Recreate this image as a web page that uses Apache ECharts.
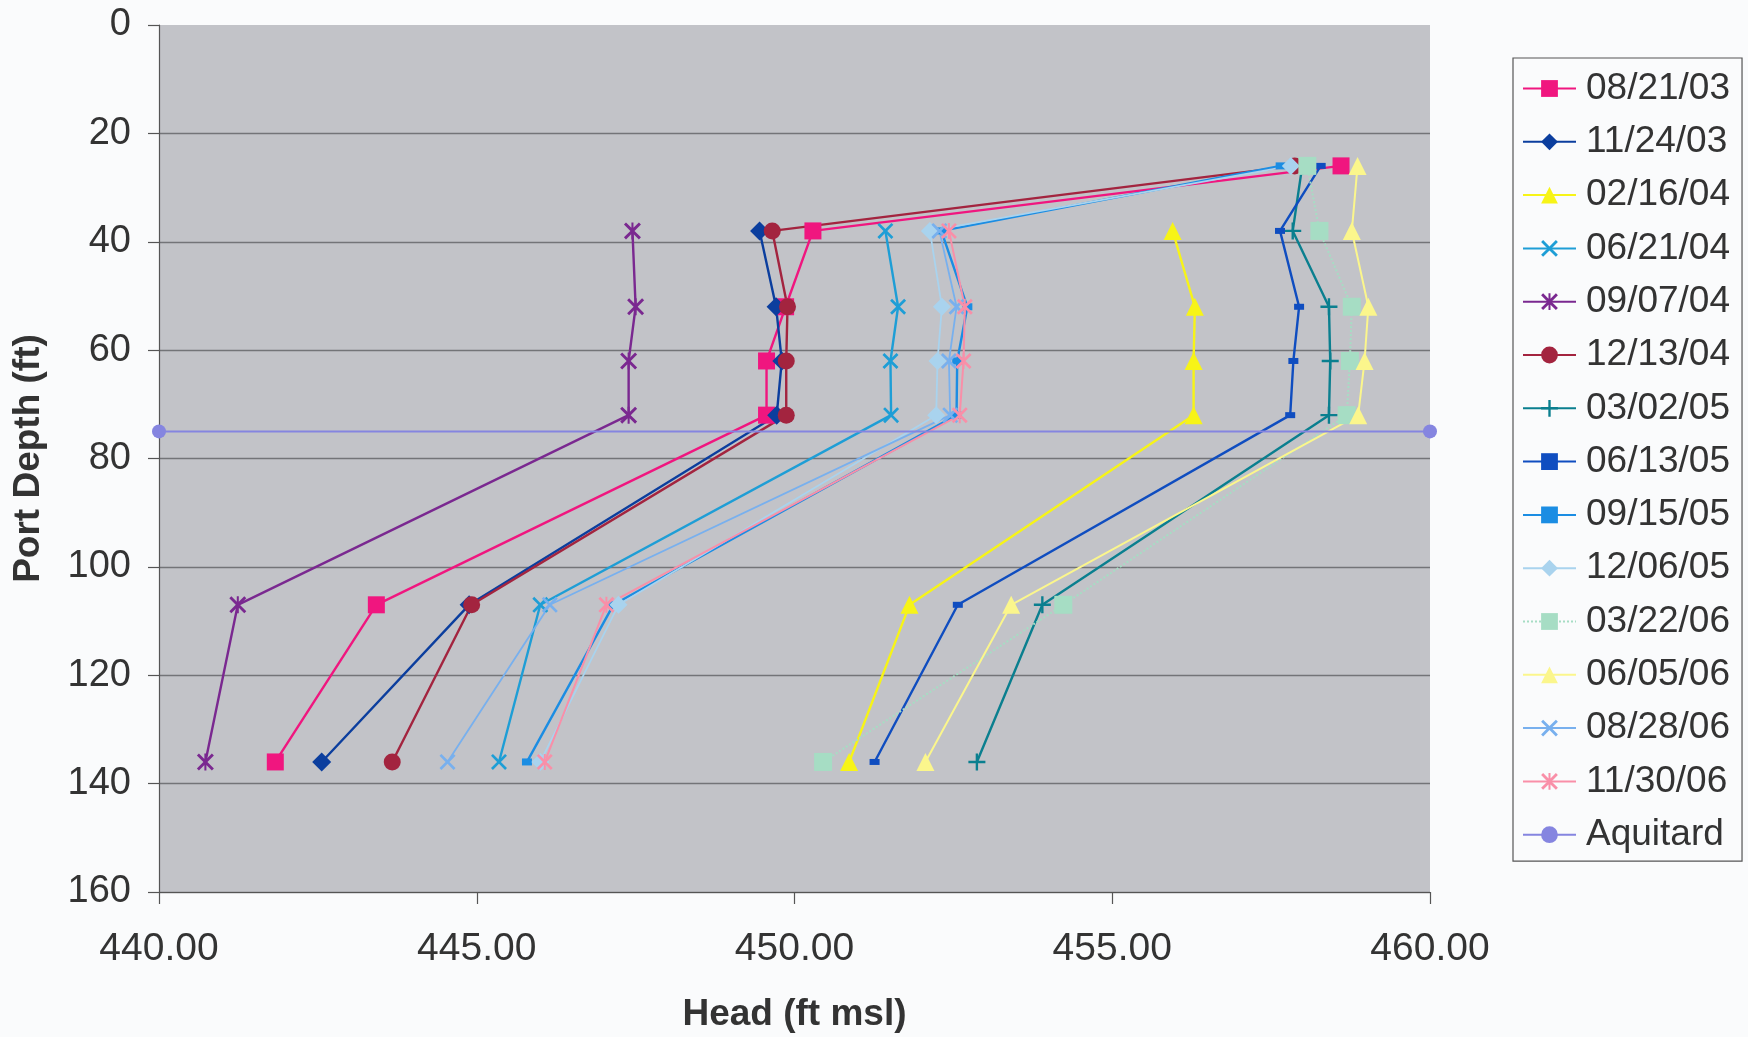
<!DOCTYPE html>
<html>
<head>
<meta charset="utf-8">
<script src="https://cdn.jsdelivr.net/npm/echarts@6/dist/echarts.min.js"></script>
<style>
html,body{margin:0;padding:0;background:#FAFBFC;}
#chart{width:1748px;height:1037px;}
</style>
</head>
<body>
<div id="chart"></div>
<script>
// ---- data ----
var depths = [26, 38, 52, 62, 72, 107, 136];
var seriesNames = ['08/21/03','11/24/03','02/16/04','06/21/04','09/07/04','12/13/04','03/02/05','06/13/05','09/15/05','12/06/05','03/22/06','06/05/06','08/28/06','11/30/06'];
var h_082103 = [458.60, 450.29, 449.86, 449.56, 449.56, 443.42, 441.83];
var h_112403 = [null, 449.45, 449.71, 449.80, 449.72, 444.88, 442.56];
var h_021604 = [null, 455.95, 456.30, 456.28, 456.28, 451.81, 450.86];
var h_062104 = [null, 451.43, 451.63, 451.51, 451.52, 446.00, 445.35];
var h_090704 = [null, 447.45, 447.50, 447.39, 447.39, 441.24, 440.73];
var h_121304 = [457.87, 449.65, 449.89, 449.87, 449.87, 444.92, 443.67];
var h_030205 = [457.99, 457.84, 458.41, 458.43, 458.41, 453.90, 452.87];
var h_061305 = [458.28, 457.64, 457.94, 457.85, 457.80, 452.57, 451.26];
var h_091505 = [457.65, 452.31, 452.72, 452.56, 452.55, 447.15, 445.79];
var h_120605 = [457.81, 452.13, 452.32, 452.25, 452.23, 447.23, 446.00];
var h_032206 = [458.07, 458.26, 458.77, 458.74, 458.69, 454.23, 450.45];
var h_060506 = [458.86, 458.77, 459.03, 458.97, 458.87, 453.41, 452.06];
var h_082806 = [null, 452.28, 452.55, 452.43, 452.45, 446.15, 444.54];
var h_113006 = [null, 452.43, 452.68, 452.66, 452.60, 447.04, 446.07];
var aquitardName = 'Aquitard';
var aquitardHeads = [440, 460];
var aquitardDepth = 75;
var xTicks = [440, 445, 450, 455, 460];
var yTicks = [0, 20, 40, 60, 80, 100, 120, 140, 160];

// ---- styling ----
var SYM_X = 'path://M0,1.2 L1.2,0 L5,3.8 L8.8,0 L10,1.2 L6.2,5 L10,8.8 L8.8,10 L5,6.2 L1.2,10 L0,8.8 L3.8,5 Z';
var SYM_STAR = 'path://M0,1.2 L1.2,0 L5,3.8 L8.8,0 L10,1.2 L6.2,5 L10,8.8 L8.8,10 L5,6.2 L1.2,10 L0,8.8 L3.8,5 Z M4.4,0 L5.6,0 L5.6,10 L4.4,10 Z';
var SYM_PLUS = 'path://M4.3,0 L5.7,0 L5.7,4.3 L10,4.3 L10,5.7 L5.7,5.7 L5.7,10 L4.3,10 L4.3,5.7 L0,5.7 L0,4.3 L4.3,4.3 Z';
var styles = [
  {c:'#F0167F', s:'rect', z:17, w:2.4},
  {c:'#0B3E9E', s:'diamond', z:19, w:2.4},
  {c:'#F7F417', s:'triangle', z:18, w:2.4},
  {c:'#1E9ED6', s:SYM_X, z:16, w:2.4},
  {c:'#7A2890', s:SYM_STAR, z:17, w:2.4},
  {c:'#A3243F', s:'circle', z:17, w:2.4},
  {c:'#0A7F8F', s:SYM_PLUS, z:17, w:2.4},
  {c:'#0F4DC0', s:'rect', z:[10,6], w:2.4},
  {c:'#1B8DE3', s:'rect', z:[10,7], w:2.4},
  {c:'#A9D3EE', s:'diamond', z:18, w:1.8},
  {c:'#A6DDC4', s:'rect', z:18, w:2, t:'dotted'},
  {c:'#FBF68C', s:'triangle', z:18, w:2},
  {c:'#78B0EE', s:SYM_X, z:16, w:1.8},
  {c:'#F98FA8', s:SYM_STAR, z:16, w:2}
];
var heads = [h_082103,h_112403,h_021604,h_062104,h_090704,h_121304,h_030205,h_061305,h_091505,h_120605,h_032206,h_060506,h_082806,h_113006];

var series = seriesNames.map(function(name, i){
  var st = styles[i];
  var data = [];
  heads[i].forEach(function(h, k){ if (h !== null) data.push([h, depths[k]]); });
  return {
    name: name, type: 'line', data: data,
    symbol: st.s, symbolSize: st.z, clip: false,
    lineStyle: {color: st.c, width: st.w, type: st.t || 'solid'},
    itemStyle: {color: st.c},
    emphasis: {disabled: true}, animation: false
  };
});
series.push({
  name: aquitardName, type: 'line',
  data: aquitardHeads.map(function(h){ return [h, aquitardDepth]; }),
  symbol: 'circle', symbolSize: 14, clip: false,
  lineStyle: {color: '#8585E0', width: 2},
  itemStyle: {color: '#8585E0'},
  emphasis: {disabled: true}, animation: false
});

var FONT = 'Liberation Sans';
var chart = echarts.init(document.getElementById('chart'), null, {renderer: 'canvas'});
chart.setOption({
  backgroundColor: '#FAFBFC',
  animation: false,
  grid: {left: 159, right: 318, top: 25, bottom: 145, show: true, backgroundColor: '#C2C3C8', borderWidth: 0, outerBoundsMode: 'none'},
  xAxis: {
    type: 'value', min: xTicks[0], max: xTicks[xTicks.length-1], interval: 5,
    name: 'Head (ft msl)', nameLocation: 'middle', nameGap: 104,
    nameTextStyle: {fontFamily: FONT, fontSize: 37, fontWeight: 'bold', color: '#333'},
    axisLine: {show: true, onZero: false, lineStyle: {color: '#555', width: 1.2}},
    axisTick: {show: true, length: 12, lineStyle: {color: '#555', width: 1.2}},
    axisLabel: {margin: 38, fontFamily: FONT, fontSize: 39, color: '#333', formatter: function(v){ return v.toFixed(2); }},
    splitLine: {show: false}
  },
  yAxis: {
    type: 'value', inverse: true, min: yTicks[0], max: yTicks[yTicks.length-1], interval: 20,
    name: 'Port Depth (ft)', nameLocation: 'middle', nameGap: 112, nameRotate: 90,
    nameTextStyle: {fontFamily: FONT, fontSize: 37, fontWeight: 'bold', color: '#333'},
    axisLine: {show: true, onZero: false, lineStyle: {color: '#555', width: 1.2}},
    axisTick: {show: true, length: 11, lineStyle: {color: '#555', width: 1.2}},
    axisLabel: {margin: 28, fontFamily: FONT, fontSize: 38, color: '#333'},
    splitLine: {show: true, showMinLine: false, lineStyle: {color: '#737478', width: 1.4}}
  },
  legend: {
    orient: 'vertical', left: 1513, top: 58,
    padding: [12, 12, 8, 9], itemGap: 16.3, itemWidth: 53, itemHeight: 21,
    borderColor: '#555', borderWidth: 1.2, backgroundColor: '#FAFBFC',
    textStyle: {fontFamily: FONT, fontSize: 37, lineHeight: 36, color: '#333', padding: [0, 0, 0, 5]},
    data: seriesNames.concat([aquitardName])
  },
  series: series
});
</script>
</body>
</html>
